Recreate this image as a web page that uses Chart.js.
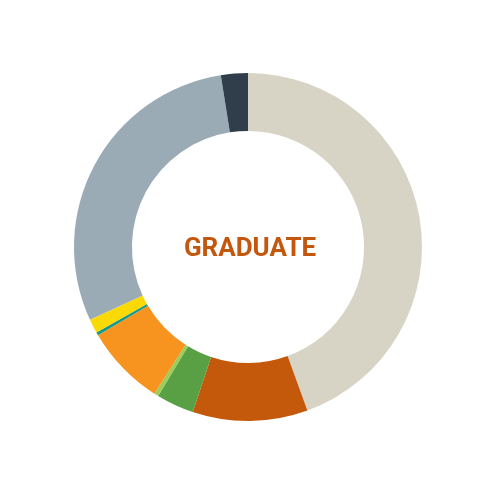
<!DOCTYPE html>
<html>
<head>
<meta charset="utf-8">
<script src="https://cdn.jsdelivr.net/npm/chart.js@4"></script>
<style>
  html, body { margin: 0; padding: 0; background: #ffffff; }
  #wrap { position: relative; width: 500px; height: 500px; }
  #label { position: absolute; left: 0; width: 500px; top: 231px; text-align: center;
           font-family: Roboto, "Liberation Sans", sans-serif; font-weight: 700; font-size: 26px;
           color: #c2570d; line-height: 32px; letter-spacing: 0px; padding-left: -4px; }
</style>
</head>
<body>
<div id="wrap">
  <canvas id="c" width="500" height="500"></canvas>
  <div id="label">GRADUATE</div>
</div>
<script>
const categories = ["Cat A", "Cat B", "Cat C", "Cat D", "Cat E", "Cat F", "Cat G", "Cat H", "Cat I"];
const values = [44.5, 10.7, 3.5, 0.4, 7.5, 0.3, 1.3, 29.4, 2.5];
const colors = ["#d7d4c5", "#c4580b", "#58a043", "#9ccd5b", "#f7941f", "#16998a", "#fbd905", "#9aabb6", "#2f3e4a"];
const centerText = "GRADUATE";

document.getElementById('label').textContent = centerText;

new Chart(document.getElementById('c'), {
  type: 'doughnut',
  data: {
    labels: categories,
    datasets: [{
      data: values,
      backgroundColor: colors,
      borderWidth: 0,
      hoverOffset: 0,
      spacing: 0
    }]
  },
  options: {
    responsive: false,
    animation: false,
    cutout: '66.7%',
    layout: { padding: { left: 74, right: 78, top: 73, bottom: 79 } },
    plugins: { legend: { display: false }, tooltip: { enabled: false } }
  }
});
</script>
</body>
</html>
